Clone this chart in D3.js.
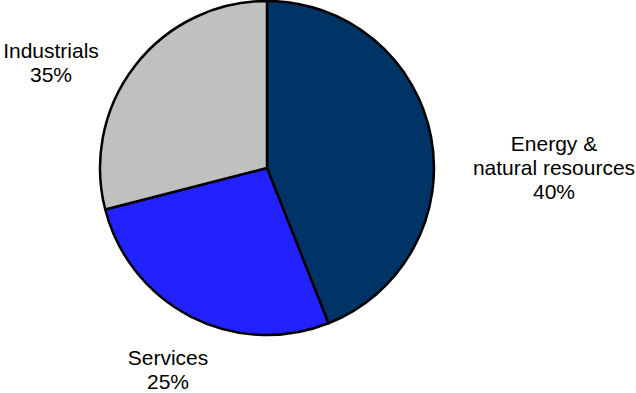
<!DOCTYPE html>
<html><head><meta charset="utf-8">
<script src="https://cdn.jsdelivr.net/npm/d3@7"></script>
<style>body{margin:0;background:#fff}svg{display:block}text{font-family:"Liberation Sans",Arial,sans-serif;font-size:21px;fill:#000}</style>
</head><body><svg id="c" width="636" height="393"></svg>
<script>
const categories = ["Energy & natural resources", "Services", "Industrials"];
const labelLines = [["Energy &", "natural resources", "40%"], ["Services", "25%"], ["Industrials", "35%"]];
const sliceValues = [44, 27, 29];
const colors = ["#003366", "#2222ff", "#c0c0c0"];
const labelPos = [[554, 151], [168, 365], [51, 58]];

const svg = d3.select("#c");
const cx = 267, cy = 168, r = 167;
const g = svg.append("g").attr("transform", `translate(${cx},${cy})`);
const pie = d3.pie().sort(null).value(d => d)(sliceValues);
const arc = d3.arc().innerRadius(0).outerRadius(r);
g.selectAll("path").data(pie).join("path")
  .attr("d", arc).attr("fill", (d, i) => colors[i])
  .attr("stroke", "#000").attr("stroke-width", 2.5).attr("stroke-linejoin", "round");

labelLines.forEach((lines, i) => {
  const t = svg.append("text").attr("text-anchor", "middle")
    .attr("x", labelPos[i][0]).attr("y", labelPos[i][1]);
  lines.forEach((l, j) => t.append("tspan").attr("x", labelPos[i][0]).attr("dy", j === 0 ? 0 : 24).text(l));
});
</script></body></html>
